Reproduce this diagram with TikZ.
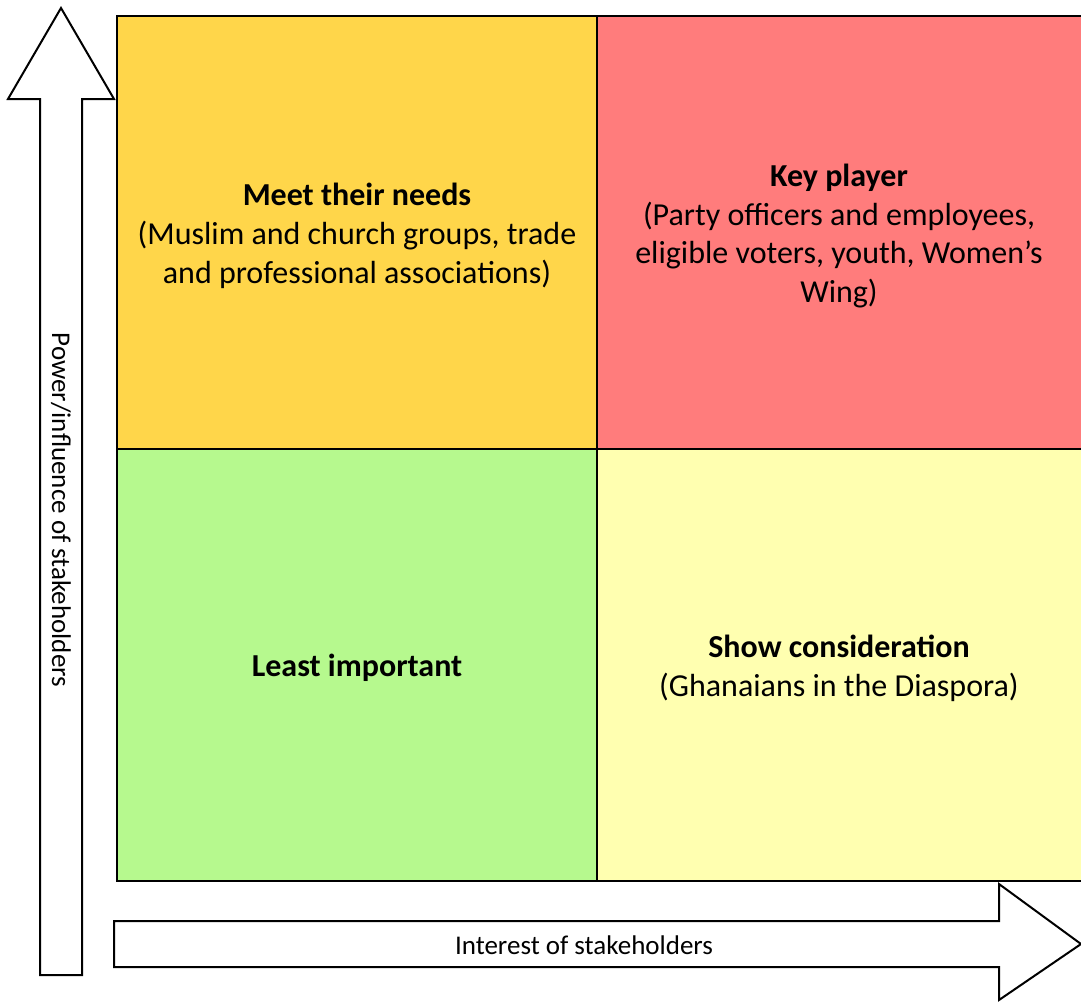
\documentclass[tikz,border=0pt]{standalone}
\usepackage{fontspec}
\setmainfont{Carlito}
\begin{document}
\begin{tikzpicture}[x=1pt,y=-1pt,
  cell/.style={draw=black,line width=2pt},
  bigarrow/.style={draw=black,line width=2pt,fill=white,line join=miter},
  celltext/.style={align=center,font=\fontsize{32}{38.8}\selectfont,text=black},
  axistext/.style={font=\fontsize{27}{30}\selectfont}]
\useasboundingbox (0,0) rectangle (1081,1001);
\begin{scope}
\clip (0,0) rectangle (1081,1001);
% quadrants
\fill[fill={rgb,255:red,255;green,214;blue,74}] (117,16) rectangle (597,449);
\fill[fill={rgb,255:red,255;green,124;blue,124}] (597,16) rectangle (1090,449);
\fill[fill={rgb,255:red,182;green,249;blue,142}] (117,449) rectangle (597,881);
\fill[fill={rgb,255:red,255;green,255;blue,176}] (597,449) rectangle (1090,881);
\draw[cell] (117,16) rectangle (1090,881);
\draw[cell] (597,16) -- (597,881);
\draw[cell] (117,449) -- (1090,449);
% axis arrows
\draw[bigarrow] (61,8) -- (114,99) -- (82,99) -- (82,975) -- (40,975) -- (40,99) -- (8,99) -- cycle;
\draw[bigarrow] (1081,944) -- (999,1000) -- (999,967) -- (114,967) -- (114,921) -- (999,921) -- (999,884) -- cycle;
\end{scope}
% labels
\node[celltext] (meet) at (357,236) {\textbf{Meet their needs}\\(Muslim and church groups, trade\\and professional associations)};
\node[celltext] (key) at (839,236) {\textbf{Key player}\\(Party officers and employees,\\eligible voters, youth, Women’s\\Wing)};
\node[celltext] (least) at (357,668) {\textbf{Least important}};
\node[celltext] (show) at (839,668) {\textbf{Show consideration}\\(Ghanaians in the Diaspora)};
\node[axistext,rotate=-90] (power) at (61,510) {Power/influence of stakeholders};
\node[axistext] (interest) at (584,945) {Interest of stakeholders};
\end{tikzpicture}
\end{document}
